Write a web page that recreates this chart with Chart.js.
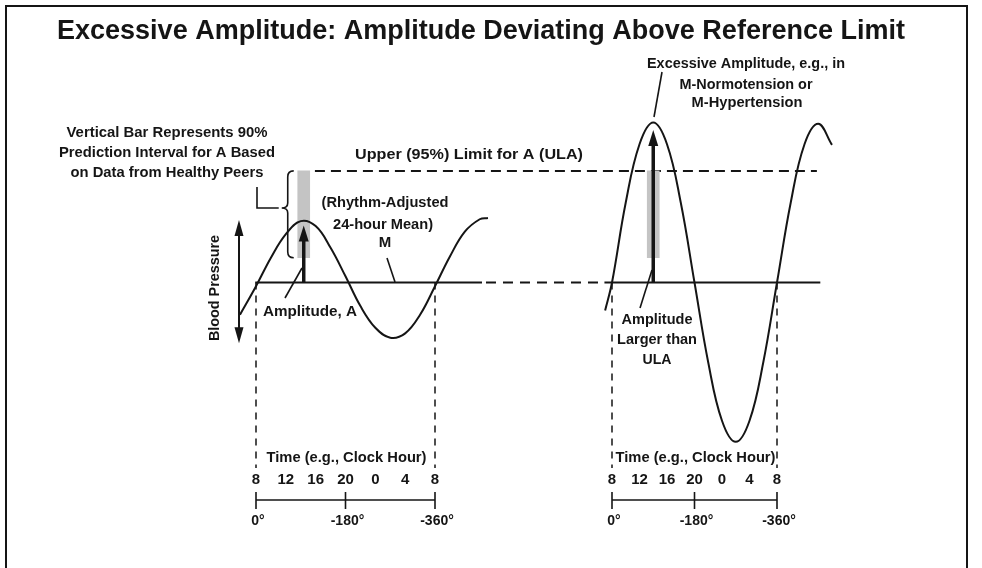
<!DOCTYPE html>
<html>
<head>
<meta charset="utf-8">
<script src="https://cdn.jsdelivr.net/npm/chart.js@4.4.1/dist/chart.umd.min.js"></script>
<style>
  html, body { margin: 0; padding: 0; background: #fff; }
  #wrap { position: relative; width: 982px; height: 568px; }
</style>
</head>
<body>
<div id="wrap"><canvas id="chart" width="982" height="568"></canvas></div>
<script>
// DATOS
const hourTicks   = [8, 12, 16, 20, 24, 28, 32];
const hourLabels  = ['8', '12', '16', '20', '0', '4', '8'];
const phaseTicks  = [8, 20, 32];
const phaseLabels = ['0°', '-180°', '-360°'];

// left wave: normal amplitude
const leftHours = [5.85, 8, 10, 12, 14, 16, 18, 20, 22, 24, 26, 28, 30, 32, 34, 36, 38, 39.1];
const leftBP    = [114.8, 119.4, 124.0, 127.8, 129.9, 129.1, 125.6, 121.0, 116.2, 112.7, 111.1, 111.8, 114.8, 119.4, 124.2, 128.2, 130.2, 130.4];

// right wave: excessive amplitude
const rightHours = [7, 8, 10, 12, 14, 16, 18, 20, 22, 24, 26, 28, 30, 32, 34, 36, 38, 40];
const rightBP    = [115.5, 120, 132.9, 142.3, 145.8, 142.3, 132.9, 120, 107.1, 97.7, 94.3, 97.7, 107.1, 120, 132.9, 142.3, 145.6, 142.2];

const mesor      = 120;
const ulaLimit   = 138;   // upper 95% limit
const predLow    = 124;   // lower end of 90% prediction bar
const peakHour   = [14.4, 14.0];
const arrowTop   = [129.2, 144.6];
const mesorSpanL = [7.9, 38.3];
const mesorSpanR = [6.9, 38.3];
const ulaSpan    = [15.9, 37.8];   // start on left time axis, end on right time axis

// LAYOUT
const W = 982, H = 568;
const panelL = { x0: 256, x1: 435 };
const panelR = { x0: 612, x1: 777 };
const mesorY = 282.5, pxPerUnit = 6.2;
const ink  = '#151515';
const FONT = '"Liberation Sans", Arial, sans-serif';

function hourRange(p) {
    const k = 24 / (p.x1 - p.x0);
    const min = 8 - p.x0 * k;
    return { min: min, max: min + W * k };
}
const rL = hourRange(panelL), rR = hourRange(panelR);
const yMin = mesor - (H - mesorY) / pxPerUnit;
const yMax = mesor + mesorY / pxPerUnit;

const pts = (xs, ys) => xs.map((x, i) => ({ x: x, y: ys[i] }));

function text(ctx, s, x, y, size, width) {
    ctx.save();
    ctx.font = 'bold ' + size + 'px ' + FONT;
    ctx.textAlign = 'center';
    ctx.textBaseline = 'middle';
    ctx.fillStyle = ink;
    ctx.translate(x, y);
    if (width) ctx.scale(width / ctx.measureText(s).width, 1);
    ctx.fillText(s, 0, 0);
    ctx.restore();
}

function line(ctx, x0, y0, x1, y1, w, dash) {
    ctx.save();
    ctx.strokeStyle = ink;
    ctx.lineWidth = w;
    ctx.setLineDash(dash || []);
    ctx.beginPath();
    ctx.moveTo(x0, y0);
    ctx.lineTo(x1, y1);
    ctx.stroke();
    ctx.restore();
}

function head(ctx, x, yTip, dir, hw, hl) {
    ctx.fillStyle = ink;
    ctx.beginPath();
    ctx.moveTo(x, yTip);
    ctx.lineTo(x - hw / 2, yTip + dir * hl);
    ctx.lineTo(x + hw / 2, yTip + dir * hl);
    ctx.closePath();
    ctx.fill();
}

const diagram = {
    id: 'diagram',
    beforeDraw(chart) {
        const ctx = chart.ctx;
        ctx.save();
        ctx.fillStyle = '#fff';
        ctx.fillRect(0, 0, W, H);
        ctx.strokeStyle = ink;
        ctx.lineWidth = 2;
        ctx.strokeRect(6, 6, 961, 620);
        ctx.restore();
    },
    beforeDatasetsDraw(chart) {
        const ctx = chart.ctx;
        const xL = chart.scales.xL, xR = chart.scales.xR, y = chart.scales.y;
        const yM = y.getPixelForValue(mesor);
        // ULA dashed line
        const yU = y.getPixelForValue(ulaLimit);
        line(ctx, xL.getPixelForValue(ulaSpan[0]), yU, xR.getPixelForValue(ulaSpan[1]), yU, 2, [10, 6]);
        // dashed mesor between panels
        line(ctx, xL.getPixelForValue(mesorSpanL[1]) + 4, yM, xR.getPixelForValue(mesorSpanR[0]) - 3, yM, 2, [10, 7]);
        // vertical dashed guides
        [[xL, 8], [xL, 32], [xR, 8], [xR, 32]].forEach(([s, h]) => {
            const x = s.getPixelForValue(h);
            line(ctx, x, yM, x, 468, 1.5, [7, 6]);
        });
    },
    afterDatasetsDraw(chart) {
        const ctx = chart.ctx;
        const xL = chart.scales.xL, xR = chart.scales.xR, y = chart.scales.y;
        const yM = y.getPixelForValue(mesor);

        // amplitude arrows
        [[xL, 0], [xR, 1]].forEach(([s, i]) => {
            const x = s.getPixelForValue(peakHour[i]);
            const tip = y.getPixelForValue(arrowTop[i]);
            line(ctx, x, yM, x, tip + 10, 3.5);
            head(ctx, x, tip, 1, 10, 16);
        });

        // blood pressure double arrow
        const bx = xL.getPixelForValue(5.72);
        const bt = y.getPixelForValue(130.1), bb = y.getPixelForValue(110.2);
        line(ctx, bx, bt + 8, bx, bb - 8, 2);
        head(ctx, bx, bt, 1, 9, 16);
        head(ctx, bx, bb, -1, 9, 16);

        // brace + L bracket beside the left prediction bar
        const px = xL.getPixelForValue(peakHour[0]);
        const yT = y.getPixelForValue(ulaLimit), yB = y.getPixelForValue(predLow);
        const yC = 208, bxr = px - 10, bxm = px - 16, bxl = px - 22;
        ctx.save();
        ctx.strokeStyle = ink;
        ctx.lineWidth = 1.6;
        ctx.beginPath();
        ctx.moveTo(bxr, yT);
        ctx.quadraticCurveTo(bxm, yT, bxm, yT + 6);
        ctx.lineTo(bxm, yC - 5);
        ctx.quadraticCurveTo(bxm, yC, bxl, yC);
        ctx.quadraticCurveTo(bxm, yC, bxm, yC + 5);
        ctx.lineTo(bxm, yB - 6);
        ctx.quadraticCurveTo(bxm, yB, bxr, yB);
        ctx.stroke();
        ctx.beginPath();
        ctx.moveTo(257, 187);
        ctx.lineTo(257, yC);
        ctx.lineTo(bxl - 3, yC);
        ctx.stroke();
        ctx.restore();

        // pointer lines
        line(ctx, 662, 72, 654, 117, 1.6);
        line(ctx, 285, 298, 302, 268, 1.6);
        line(ctx, 387, 258, 395, 282, 1.6);
        line(ctx, 640, 308, 652, 270, 1.6);

        // title
        text(ctx, 'Excessive Amplitude: Amplitude Deviating Above Reference Limit', 481, 32, 27, 848);

        // annotations
        text(ctx, 'Vertical Bar Represents 90%', 167, 133, 15, 201);
        text(ctx, 'Prediction Interval for A Based', 167, 153, 15, 216);
        text(ctx, 'on Data from Healthy Peers', 167, 173, 15, 193);
        text(ctx, 'Upper (95%) Limit for A (ULA)', 469, 155, 15, 228);
        text(ctx, '(Rhythm-Adjusted', 385, 203, 15, 127);
        text(ctx, '24-hour Mean)', 383, 225, 15, 100);
        text(ctx, 'M', 385, 243, 15);
        text(ctx, 'Amplitude, A', 310, 312, 15, 94);
        text(ctx, 'Excessive Amplitude, e.g., in', 746, 64, 15, 198);
        text(ctx, 'M-Normotension or', 746, 85, 15, 133);
        text(ctx, 'M-Hypertension', 747, 103, 15, 111);
        text(ctx, 'Amplitude', 657, 320, 15, 71);
        text(ctx, 'Larger than', 657, 340, 15, 80);
        text(ctx, 'ULA', 657, 360, 15, 29);

        // rotated y label
        ctx.save();
        ctx.translate(215, 288);
        ctx.rotate(-Math.PI / 2);
        text(ctx, 'Blood Pressure', 0, 0, 15, 106);
        ctx.restore();

        // time axes
        [xL, xR].forEach(s => {
            const a = s.getPixelForValue(8), b = s.getPixelForValue(32);
            text(ctx, 'Time (e.g., Clock Hour)', (a + b) / 2 + 1, 458, 15, 160);
            hourTicks.forEach((h, i) => text(ctx, hourLabels[i], s.getPixelForValue(h), 480, 15));
            line(ctx, a, 500, b, 500, 1.6);
            phaseTicks.forEach((h, i) => {
                const x = s.getPixelForValue(h);
                line(ctx, x, 492, x, 509, 1.6);
                text(ctx, phaseLabels[i], x + 2, 521, 14);
            });
        });
    }
};

const waveStyle = { type: 'line', borderColor: ink, borderWidth: 2, pointRadius: 0, tension: 0.4, fill: false, order: 1 };
const barStyle  = { type: 'bar', backgroundColor: '#c4c4c4', borderWidth: 0, barThickness: 12, grouped: false, order: 3 };

new Chart(document.getElementById('chart'), {
    type: 'line',
    data: {
        datasets: [
            Object.assign({ xAxisID: 'xL', data: pts(leftHours, leftBP) }, waveStyle),
            Object.assign({ xAxisID: 'xR', data: pts(rightHours, rightBP) }, waveStyle),
            Object.assign({ xAxisID: 'xL', data: pts(mesorSpanL, [mesor, mesor]) }, waveStyle, { tension: 0 }),
            Object.assign({ xAxisID: 'xR', data: pts(mesorSpanR, [mesor, mesor]) }, waveStyle, { tension: 0 }),
            Object.assign({ xAxisID: 'xL', data: [{ x: peakHour[0], y: [predLow, ulaLimit] }] }, barStyle),
            Object.assign({ xAxisID: 'xR', data: [{ x: peakHour[1], y: [predLow, ulaLimit] }] }, barStyle)
        ]
    },
    options: {
        responsive: false,
        animation: false,
        events: [],
        layout: { padding: 0 },
        plugins: { legend: { display: false }, tooltip: { enabled: false } },
        scales: {
            xL: { type: 'linear', axis: 'x', display: false, offset: false, grid: { offset: false }, min: rL.min, max: rL.max },
            xR: { type: 'linear', axis: 'x', display: false, offset: false, grid: { offset: false }, min: rR.min, max: rR.max },
            y:  { type: 'linear', display: false, beginAtZero: false, min: yMin, max: yMax }
        }
    },
    plugins: [diagram]
});
</script>
</body>
</html>
